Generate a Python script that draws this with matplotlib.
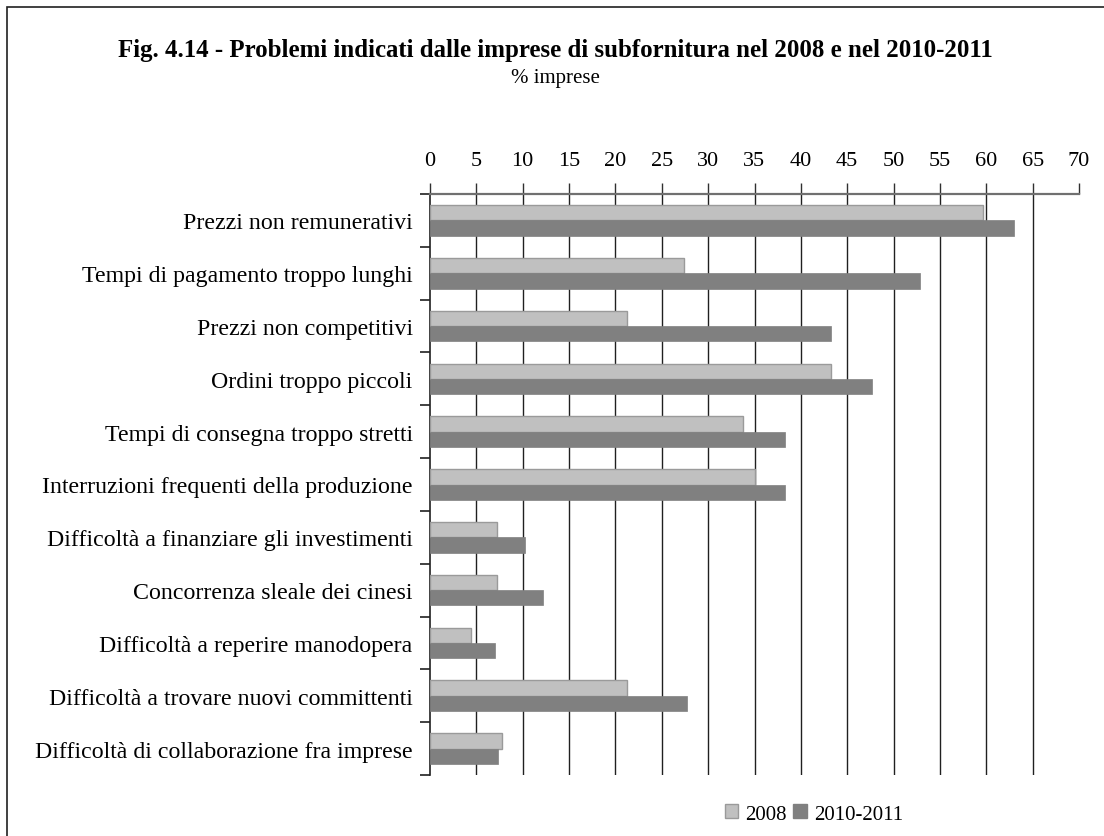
import numpy as np
import matplotlib
matplotlib.use("Agg")
import matplotlib.pyplot as plt
from matplotlib.patches import Rectangle, Patch

plt.rcParams["font.family"] = ["Liberation Serif", "DejaVu Serif"]

# data
categories = [
    "Prezzi non remunerativi",
    "Tempi di pagamento troppo lunghi",
    "Prezzi non competitivi",
    "Ordini troppo piccoli",
    "Tempi di consegna troppo stretti",
    "Interruzioni frequenti della produzione",
    "Difficoltà a finanziare gli investimenti",
    "Concorrenza sleale dei cinesi",
    "Difficoltà a reperire manodopera",
    "Difficoltà a trovare nuovi committenti",
    "Difficoltà di collaborazione fra imprese",
]
v2008 = [59.6, 27.4, 21.2, 43.3, 33.8, 35.1, 7.2, 7.2, 4.4, 21.2, 7.8]
v2010 = [63.0, 52.9, 43.3, 47.7, 38.3, 38.3, 10.2, 12.2, 7.0, 27.7, 7.3]
series_names = ["2008", "2010-2011"]
xticks = list(range(0, 75, 5))

W, H = 1104, 837
fig = plt.figure(figsize=(W / 100, H / 100), dpi=100)

# outer chart border (right/bottom run off the picture)
fig.patches.append(Rectangle((7 / W, -0.05), 1.1, 1 - 8 / H + 0.05,
                             transform=fig.transFigure, fill=False,
                             edgecolor="#202020", lw=1.2))

fig.text(555 / W, 1 - 51 / H,
         "Fig. 4.14 - Problemi indicati dalle imprese di subfornitura nel 2008 e nel 2010-2011",
         ha="center", va="center", fontsize=17.9, fontweight="bold")
fig.text(555 / W, 1 - 79 / H, "% imprese", ha="center", va="center", fontsize=15)

left, right, top, bottom = 430 / W, 1079 / W, 1 - 195 / H, 1 - 776 / H
ax = fig.add_axes([left, bottom, right - left, top - bottom])

y = np.arange(len(categories))
h = 0.29
ax.barh(y - h / 2, v2008, height=h, color="#C0C0C0", edgecolor="#9A9A9A",
        lw=1, zorder=3, label=series_names[0])
ax.barh(y + h / 2, v2010, height=h, color="#808080", edgecolor="#808080",
        lw=0.5, zorder=3, label=series_names[1])

ax.set_xlim(0, 70)
ax.set_ylim(len(categories) - 0.5, -0.5)

# value axis on top
ax.xaxis.tick_top()
ax.set_xticks(xticks)
ax.tick_params(axis="x", direction="out", length=8, width=1, color="#303030",
               pad=9, labelsize=16)
for xv in xticks[1:-1]:
    ax.axvline(xv, color="#202020", lw=1, zorder=1)

# category axis: ticks between categories, labels at centers
ax.set_yticks(np.arange(-0.5, len(categories), 1))
ax.set_yticklabels([])
ax.tick_params(axis="y", which="major", direction="out", length=7, width=1.2,
               color="#202020")
ax.set_yticks(y, minor=True)
ax.set_yticklabels(categories, minor=True, fontsize=17.2)
ax.tick_params(axis="y", which="minor", length=0, pad=12.5)

for s in ["right", "bottom"]:
    ax.spines[s].set_visible(False)
ax.spines["top"].set_color("#707070")
ax.spines["top"].set_linewidth(1.6)
ax.spines["left"].set_color("#202020")
ax.spines["left"].set_linewidth(1.2)

handles = [Patch(facecolor="#C0C0C0", edgecolor="#9A9A9A"),
           Patch(facecolor="#808080", edgecolor="#808080")]
fig.legend(handles, series_names, loc="center", bbox_to_anchor=(814 / W, 1 - 815 / H),
           ncol=2, frameon=False, fontsize=15, handlelength=0.65, handleheight=0.65,
           handletextpad=0.35, columnspacing=0.3, borderpad=0)

fig.savefig("out.png", dpi=100)
